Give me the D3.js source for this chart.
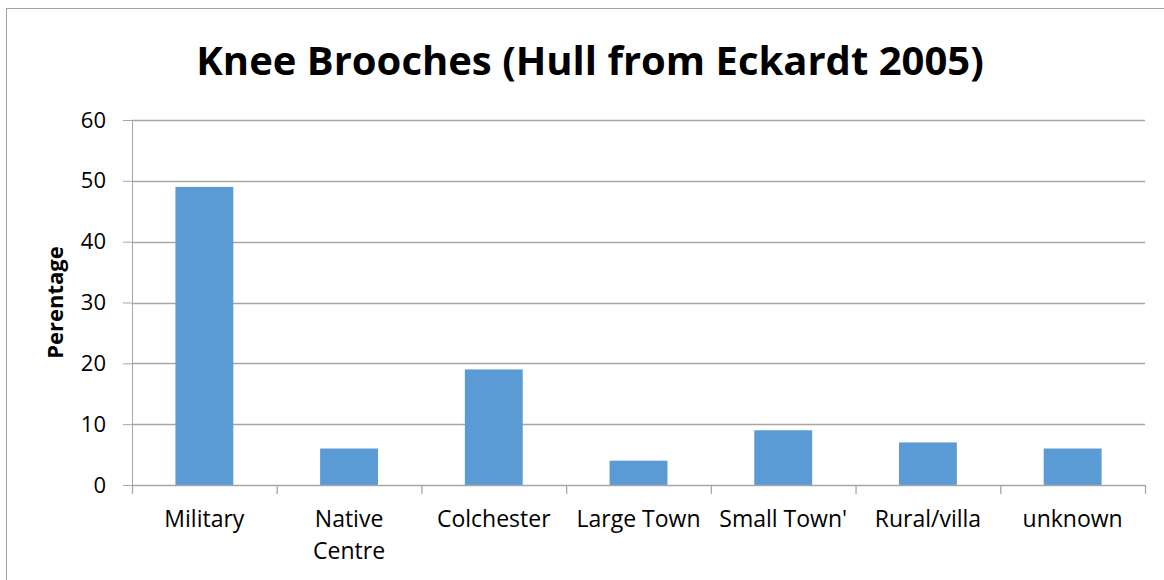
<!DOCTYPE html>
<html>
<head>
<meta charset="utf-8">
<script src="https://cdn.jsdelivr.net/npm/d3@7/dist/d3.min.js"></script>
<style>
  html, body { margin: 0; padding: 0; background: #fff; }
  svg { display: block; }
  text { font-family: "Open Sans", sans-serif; fill: #000; }
</style>
</head>
<body>
<svg id="chart" width="1164" height="580"></svg>
<script>
// Find-site categories and share of knee brooches (%)
const categories = ["Military", "Native Centre", "Colchester", "Large Town", "Small Town'", "Rural/villa", "unknown"];
const percentages = [49, 6, 19, 4, 9, 7, 6];
const yTicks = [0, 10, 20, 30, 40, 50, 60];
const chartTitle = "Knee Brooches (Hull from Eckardt 2005)";
const yAxisTitle = "Perentage";

const svg = d3.select("#chart");
const W = 1164, H = 580;
const plot = { left: 132, right: 1145, top: 120, bottom: 485 };
const gridColor = "#a6a6a6";

// outer chart frame
svg.append("rect")
  .attr("x", 6.5).attr("y", 8.5)
  .attr("width", W + 10).attr("height", H + 10)
  .attr("fill", "none").attr("stroke", "#a0a0a0").attr("stroke-width", 1);

const x = d3.scaleBand().domain(categories).range([plot.left, plot.right]).paddingInner(0.6).paddingOuter(0.3);
const xBand = d3.scaleBand().domain(categories).range([plot.left, plot.right]);
const y = d3.scaleLinear().domain([0, 60]).range([plot.bottom, plot.top]);

// value axis with left ticks
const yAxis = d3.axisLeft(y).tickValues(yTicks).tickSize(9).tickPadding(17).tickFormat(d3.format("d"));
const gy = svg.append("g").attr("transform", `translate(${plot.left},0)`).call(yAxis);
gy.select(".domain").attr("stroke", gridColor);
gy.selectAll(".tick line").attr("stroke", gridColor);
gy.selectAll(".tick text").attr("font-size", 22).attr("fill", "#000").attr("font-family", "'Open Sans', sans-serif");

// horizontal gridlines
svg.append("g").selectAll("line").data(yTicks.filter(d => d > 0)).join("line")
  .attr("x1", plot.left).attr("x2", plot.right)
  .attr("y1", d => Math.round(y(d)) + 0.5).attr("y2", d => Math.round(y(d)) + 0.5)
  .attr("stroke", gridColor).attr("stroke-width", 1.3);

// bars
svg.append("g").selectAll("rect").data(categories).join("rect")
  .attr("x", d => x(d)).attr("width", x.bandwidth())
  .attr("y", (d, i) => y(percentages[i]))
  .attr("height", (d, i) => y(0) - y(percentages[i]))
  .attr("fill", "#5b9bd5");

// category axis with boundary ticks
const bounds = categories.map(c => xBand(c)).concat([plot.right]);
svg.append("line").attr("x1", plot.left).attr("x2", plot.right)
  .attr("y1", plot.bottom + 0.5).attr("y2", plot.bottom + 0.5)
  .attr("stroke", gridColor).attr("stroke-width", 1.3);
svg.append("g").selectAll("line").data(bounds).join("line")
  .attr("x1", d => d + 0.5).attr("x2", d => d + 0.5)
  .attr("y1", plot.bottom).attr("y2", plot.bottom + 9)
  .attr("stroke", gridColor).attr("stroke-width", 1.3);

const lines = { "Native Centre": ["Native", "Centre"] };
const xl = svg.append("g").selectAll("text").data(categories).join("text")
  .attr("x", d => xBand(d) + xBand.bandwidth() / 2)
  .attr("y", 527)
  .attr("text-anchor", "middle")
  .attr("font-size", 23);
xl.each(function (d) {
  const parts = lines[d] || [d];
  d3.select(this).selectAll("tspan").data(parts).join("tspan")
    .attr("x", xBand(d) + xBand.bandwidth() / 2)
    .attr("dy", (p, i) => i === 0 ? 0 : 32)
    .text(p => p);
});

// titles
svg.append("text").attr("x", 590).attr("y", 75)
  .attr("text-anchor", "middle").attr("font-size", 40).attr("font-weight", "bold")
  .text(chartTitle);

svg.append("text")
  .attr("transform", `translate(63,${(plot.top + plot.bottom) / 2}) rotate(-90)`)
  .attr("text-anchor", "middle").attr("font-size", 22).attr("font-weight", "bold")
  .text(yAxisTitle);
</script>
</body>
</html>
